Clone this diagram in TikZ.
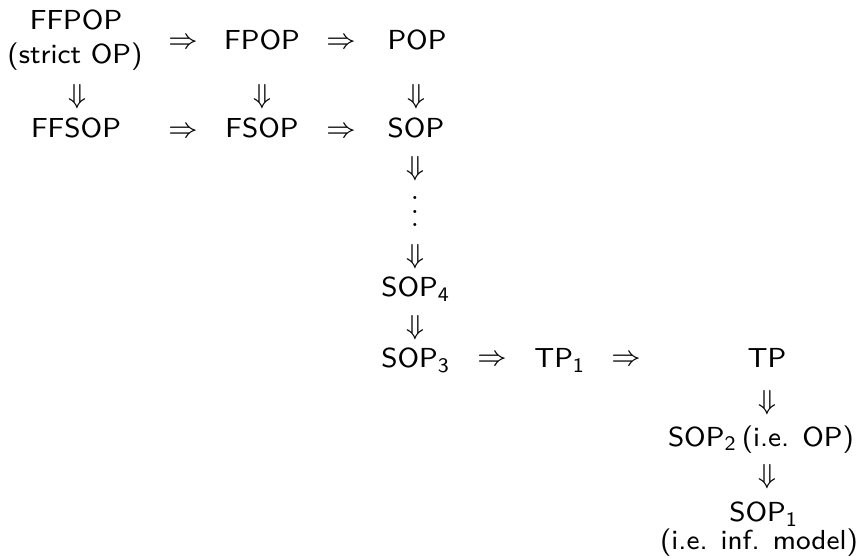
\documentclass[tikz,border=0pt]{standalone}
\usepackage{amsmath,amssymb}

\newcommand{\sz}[1]{\scalebox{1.72}{\fontsize{8}{9.6}\selectfont #1}}
\newcommand{\stackdots}{\vbox{\baselineskip4pt\lineskiplimit0pt\hbox{.}\hbox{.}\hbox{.}}}
\tikzset{
  lbl/.style={inner sep=0pt, anchor=base, font=\sffamily},
  imp/.style={inner sep=0pt}
}

\begin{document}
\begin{tikzpicture}[x=0.5pt, y=-0.5pt]
\useasboundingbox (0,0) rectangle (864,556);
% first row
\node [lbl] (ffpop) at (76,30) {\sz{FFPOP}};
\node [lbl] (strictop) at (75,64) {\sz{(strict OP)}};
\node [lbl] (fpop) at (262,50) {\sz{FPOP}};
\node [lbl] (pop) at (417,50) {\sz{POP}};
\node [imp] (ra) at (183,43) {\sz{$\Rightarrow$}};
\node [imp] (rb) at (341,43) {\sz{$\Rightarrow$}};
% down
\node [imp] (da) at (77,97) {\sz{$\Downarrow$}};
\node [imp] (db) at (262,97) {\sz{$\Downarrow$}};
\node [imp] (dc) at (416,97) {\sz{$\Downarrow$}};
% second row
\node [lbl] (ffsop) at (76,138) {\sz{FFSOP}};
\node [lbl] (fsop) at (262,138) {\sz{FSOP}};
\node [lbl] (sop) at (416,138) {\sz{SOP}};
\node [imp] (rc) at (183,132) {\sz{$\Rightarrow$}};
\node [imp] (rd) at (341,132) {\sz{$\Rightarrow$}};
% SOP_n chain
\node [imp] (dd) at (415,169) {\sz{$\Downarrow$}};
\node [imp, anchor=base] (dots) at (415,227) {\sz{\stackdots}};
\node [imp] (de) at (415,257) {\sz{$\Downarrow$}};
\node [lbl] (sopfour) at (416,297) {\sz{SOP\textsubscript{4}}};
\node [imp] (df) at (415,328) {\sz{$\Downarrow$}};
\node [lbl] (sopthree) at (416,368) {\sz{SOP\textsubscript{3}}};
\node [imp] (re) at (492,360) {\sz{$\Rightarrow$}};
\node [lbl] (tpone) at (560,368) {\sz{TP\textsubscript{1}}};
\node [imp] (rf) at (626,360) {\sz{$\Rightarrow$}};
\node [lbl] (tp) at (767,368) {\sz{TP}};
% last column
\node [imp] (dg) at (767,403) {\sz{$\Downarrow$}};
\node [lbl] (soptwo) at (761,446) {\sz{SOP\textsubscript{2}\,(i.e. OP)}};
\node [imp] (dh) at (767,477) {\sz{$\Downarrow$}};
\node [lbl] (sopone) at (764,522) {\sz{SOP\textsubscript{1}}};
\node [lbl] (infmodel) at (759,550) {\sz{(i.e. inf. model)}};
\end{tikzpicture}
\end{document}
